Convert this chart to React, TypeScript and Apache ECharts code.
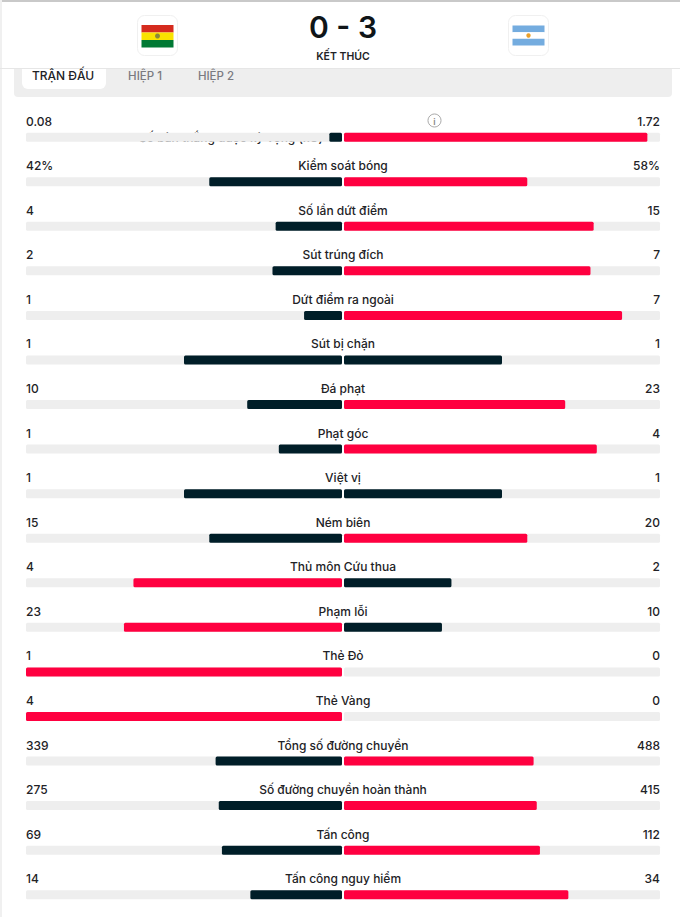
import React, { useEffect, useRef } from "react";
import * as echarts from "echarts";

const categories = [
  "Số bàn thắng được kỳ vọng (xG)", "Kiểm soát bóng", "Số lần dứt điểm", "Sút trúng đích",
  "Dứt điểm ra ngoài", "Sút bị chặn", "Đá phạt", "Phạt góc", "Việt vị", "Ném biên",
  "Thủ môn Cứu thua", "Phạm lỗi", "Thẻ Đỏ", "Thẻ Vàng", "Tổng số đường chuyền",
  "Số đường chuyền hoàn thành", "Tấn công", "Tấn công nguy hiểm",
];
const homeLabels = ["0.08", "42%", "4", "2", "1", "1", "10", "1", "1", "15", "4", "23", "1", "4", "339", "275", "69", "14"];
const awayLabels = ["1.72", "58%", "15", "7", "7", "1", "23", "4", "1", "20", "2", "10", "0", "0", "488", "415", "112", "34"];
// Bar lengths, in percent of each half track
const homeShare = [4, 42, 21, 22, 12, 50, 30, 20, 50, 42, 66, 69, 100, 100, 40, 39, 38, 29];
const awayShare = [96, 58, 79, 78, 88, 50, 70, 80, 50, 58, 34, 31, 0, 0, 60, 61, 62, 71];
const trackFull = categories.map(() => 100);
const homeWins = [false, false, false, false, false, false, false, false, false, false, true, true, true, true, false, false, false, false];
const awayWins = [true, true, true, true, true, false, true, true, false, true, false, false, false, false, true, true, true, true];

const DARK = "#001e28";
const RED = "#ff0040";
const TRACK = "#eeeeee";
const TEXT = "#222226";
const FONT = "Inter";

const bars = (idx: number, share: number[], wins: boolean[], labels: string[], pos: string) => [
  {
    type: "bar", xAxisIndex: idx, yAxisIndex: idx, data: trackFull, barWidth: 9, barGap: "-100%", silent: true,
    itemStyle: { color: TRACK, borderRadius: 1.5 },
    label: {
      show: true, position: pos, distance: 0, offset: [0, -16],
      formatter: (p: any) => labels[p.dataIndex],
      color: TEXT, fontFamily: FONT, fontSize: 12, fontWeight: 500,
    },
  },
  {
    type: "bar", xAxisIndex: idx, yAxisIndex: idx, barWidth: 9, barGap: "-100%", silent: true,
    data: share.map((v, i) => ({ value: v, itemStyle: { color: wins[i] ? RED : DARK, borderRadius: 1.5 } })),
  },
];

const text = (x: number, y: number, t: string, size: number, weight: number, fill: string, align = "center") => ({
  type: "text", x, y,
  style: { text: t, fill, font: `${weight} ${size}px ${FONT}`, textAlign: align, textVerticalAlign: "middle" },
});
const rect = (x: number, y: number, w: number, h: number, fill: string, r: any = 0, stroke?: string) => ({
  type: "rect", shape: { x, y, width: w, height: h, r }, style: { fill, stroke },
});

export default function App() {
  const ref = useRef<HTMLDivElement>(null);
  useEffect(() => {
    const chart = echarts.init(ref.current!, undefined, { renderer: "svg" });
    const gridTop = 114.9;
    const gridH = 802.8;
    chart.setOption({
      animation: false,
      backgroundColor: "#ffffff",
      grid: [
        { left: 26, top: gridTop, width: 316, height: gridH },
        { left: 344, top: gridTop, width: 316, height: gridH },
      ],
      xAxis: [
        { gridIndex: 0, type: "value", min: 0, max: 100, inverse: true, show: false },
        { gridIndex: 1, type: "value", min: 0, max: 100, show: false },
      ],
      yAxis: [
        { gridIndex: 0, type: "category", data: categories, inverse: true, show: false },
        {
          gridIndex: 1, type: "category", inverse: true, position: "left",
          data: categories.map((c, i) => i === 0
            ? { value: c, textStyle: { padding: [0, 20, 0, 0] } }
            : c),
          axisLine: { show: false }, axisTick: { show: false },
          axisLabel: {
            interval: 0, margin: 1, align: "center", verticalAlign: "bottom", lineHeight: 32,
            color: TEXT, fontFamily: FONT, fontSize: 12, fontWeight: 500,
          },
        },
      ],
      series: [
        ...bars(0, homeShare, homeWins, homeLabels, "insideLeft"),
        ...bars(1, awayShare, awayWins, awayLabels, "insideRight"),
      ],
      graphic: [
        rect(0, 0, 680, 2, "#c9c9c9"),
        rect(0, 0, 2, 917, "#f0f0f0"),
        rect(14, 60, 658, 37, TRACK, 4),
        rect(22, 60, 84, 29, "#ffffff", 6),
        rect(2, 2, 678, 66, "#ffffff"),
        rect(0, 68, 680, 1, "#e6e6e6"),
        rect(137.5, 15.5, 40, 40, "#ffffff", 7, "#f0f0f0"),
        rect(141.5, 25, 32, 7.5, "#d52b1e"),
        rect(141.5, 32.5, 32, 7.5, "#f9e300"),
        rect(141.5, 40, 32, 7.5, "#007934"),
        { type: "circle", shape: { cx: 157.5, cy: 36, r: 2.5 }, style: { fill: "#8a8a3a" } },
        rect(508.5, 15.5, 40, 40, "#ffffff", 7, "#f0f0f0"),
        rect(512.5, 25.5, 32, 6.7, "#74acdf"),
        rect(512.5, 32.2, 32, 6.6, "#ffffff"),
        rect(512.5, 38.8, 32, 6.7, "#74acdf"),
        { type: "circle", shape: { cx: 528.5, cy: 35.5, r: 2.2 }, style: { fill: "#eaa02a" } },
        text(343, 27, "0 - 3", 30, 600, "#0f1518"),
        text(343, 56, "KẾT THÚC", 10.5, 600, TEXT),
        text(63, 75.5, "TRẬN ĐẤU", 12, 500, TEXT),
        text(145, 75.5, "HIỆP 1", 11.5, 500, "#7a7a80"),
        text(216, 75.5, "HIỆP 2", 11.5, 500, "#7a7a80"),
        { type: "circle", shape: { cx: 434.5, cy: 120.5, r: 6.5 }, style: { fill: "#ffffff", stroke: "#a8a8a8", lineWidth: 1 } },
        text(434.5, 121, "i", 9, 600, "#8a8a8a"),
      ],
    });
    return () => chart.dispose();
  }, []);
  return <div ref={ref} style={{ position: "absolute", left: 0, top: 0, width: 680, height: 917 }} />;
}
